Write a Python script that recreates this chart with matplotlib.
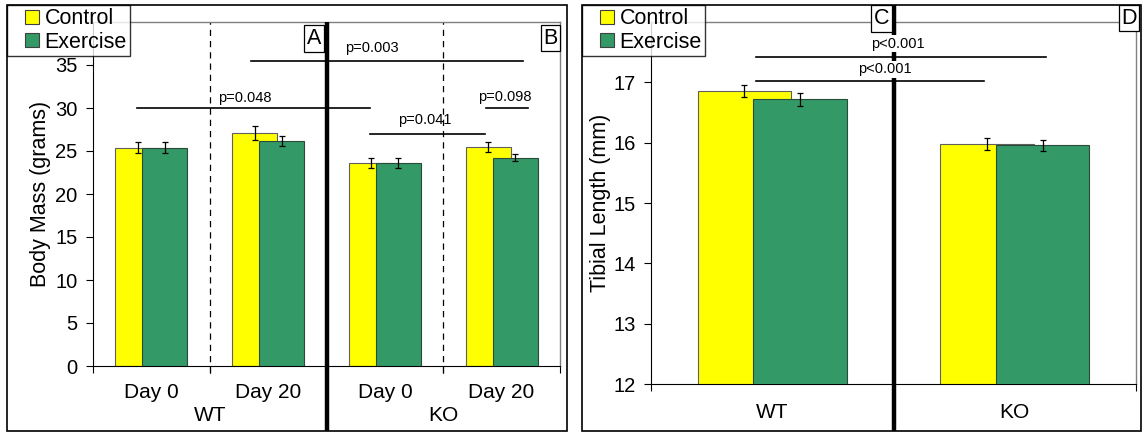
import matplotlib
matplotlib.use("Agg")
from matplotlib import pyplot as plt
from matplotlib.patches import Rectangle
from matplotlib.lines import Line2D
from matplotlib import transforms
import numpy as np

plt.rcParams['font.family'] = ['Liberation Sans', 'DejaVu Sans']

# body mass (grams), days 0 / 20 for WT and KO
mass_groups = ["Day 0", "Day 20", "Day 0", "Day 20"]
mass_genotypes = ["WT", "KO"]
mass_control = [25.4, 27.1, 23.6, 25.45]
mass_control_err = [0.65, 0.8, 0.6, 0.6]
mass_exercise = [25.4, 26.2, 23.6, 24.2]
mass_exercise_err = [0.6, 0.6, 0.6, 0.4]

# tibial length (mm)
tibia_groups = ["WT", "KO"]
tibia_control = [16.85, 15.98]
tibia_control_err = [0.1, 0.095]
tibia_exercise = [16.72, 15.96]
tibia_exercise_err = [0.11, 0.09]

# significance bars: (x start, x end, y, label, label x, label y)
mass_pvals = [
    (-0.12, 1.876, 30.0, "p=0.048", 0.80, 31.2),
    (0.85, 3.186, 35.5, "p=0.003", 1.89, 37.0),
    (1.876, 2.86, 27.0, "p=0.041", 2.34, 28.6),
    (2.87, 3.23, 30.0, "p=0.098", 3.03, 31.3),
]
tibia_pvals = [
    (-0.066, 1.13, 17.42, "p<0.001", 0.516, 17.64),
    (-0.066, 0.873, 17.03, "p<0.001", 0.464, 17.215),
]

YELLOW = "#FFFF00"
GREEN = "#339966"
W, OFF = 0.385, 0.115


def draw_bars(ax, ctrl, ctrl_err, exer, exer_err):
    x = np.arange(len(ctrl))
    ax.bar(x - OFF, ctrl, W, color=YELLOW, edgecolor="#606060", lw=0.8, zorder=2)
    ax.bar(x + OFF, exer, W, color=GREEN, edgecolor="#2a4a3a", lw=0.8, zorder=3)
    ax.errorbar(x - OFF, ctrl, yerr=ctrl_err, fmt="none", ecolor="black",
                elinewidth=0.9, capsize=2.5, capthick=0.9, zorder=5)
    ax.errorbar(x + OFF, exer, yerr=exer_err, fmt="none", ecolor="black",
                elinewidth=0.9, capsize=2.5, capthick=0.9, zorder=5)


def style_axes(ax):
    for s in ["top", "right"]:
        ax.spines[s].set_color("#808080")
        ax.spines[s].set_linewidth(1.0)
    ax.spines["left"].set_color("black")
    ax.spines["bottom"].set_color("black")
    ax.tick_params(axis="y", direction="out", length=5, labelsize=14.5, pad=6)
    ax.tick_params(axis="x", direction="out", length=5, labelbottom=False)


def panel_letter(ax, s, x, y):
    ax.text(x, y, s, transform=ax.transAxes, ha="center", va="center", fontsize=15.5,
            bbox=dict(boxstyle="square,pad=0.12", fc="white", ec="black", lw=0.9),
            zorder=10, clip_on=False)


def add_legend(ax, fig, x0, y0):
    handles = [Line2D([], [], ls="none", marker="s", ms=9.5, mfc=YELLOW,
                      mec="#404040", mew=0.8, label="Control"),
               Line2D([], [], ls="none", marker="s", ms=9.5, mfc=GREEN,
                      mec="#404040", mew=0.8, label="Exercise")]
    leg = ax.legend(handles=handles, loc="upper left", bbox_to_anchor=(x0, y0),
                    bbox_transform=fig.transFigure, fontsize=15.5, frameon=True,
                    fancybox=False, edgecolor="black", borderpad=0.15,
                    labelspacing=0.12, handlelength=2.0, handletextpad=-0.4,
                    borderaxespad=0)
    leg.get_frame().set_linewidth(1.0)
    leg.set_zorder(20)


fig = plt.figure(figsize=(11.46, 4.33), dpi=100)

# outer frames of the two panels
for (x0, x1) in [(7, 567), (582, 1141)]:
    fig.patches.append(Rectangle((x0 / 1146, 1 - 431 / 433), (x1 - x0) / 1146, 426 / 433,
                                 transform=fig.transFigure, fill=False, ec="black",
                                 lw=1.2, zorder=0))

# ---- body mass panel ----
ax1 = fig.add_axes([93 / 1146, 1 - 366 / 433, 467 / 1146, 344 / 433])
draw_bars(ax1, mass_control, mass_control_err, mass_exercise, mass_exercise_err)
ax1.set_xlim(-0.5, 3.5)
ax1.set_ylim(0, 40)
ax1.set_yticks(range(0, 36, 5))
ax1.set_xticks([-0.5, 0.5, 1.5, 2.5, 3.5])
style_axes(ax1)
ax1.set_ylabel("Body Mass (grams)", fontsize=15.5, labelpad=3)

xt1 = transforms.blended_transform_factory(ax1.transData, ax1.transAxes)
for xb in [0.5, 2.5]:
    ax1.plot([xb, xb], [-0.02, 1.0], transform=xt1, color="black", lw=0.9,
             ls=(0, (5, 4)), clip_on=False, zorder=1)
ax1.plot([1.5, 1.5], [-0.189, 1.0], transform=xt1, color="black", lw=3.2,
         clip_on=False, zorder=6, solid_capstyle="butt")

for i, g in enumerate(mass_groups):
    ax1.text(i, -0.078, g, transform=xt1, ha="center", va="center", fontsize=15)
for i, g in enumerate(mass_genotypes):
    ax1.text(0.5 + 2 * i, -0.145, g, transform=xt1, ha="center", va="center", fontsize=15)

for (xa, xb, y, lab, tx, ty) in mass_pvals:
    ax1.plot([xa, xb], [y, y], color="black", lw=1.2, zorder=4)
    ax1.text(tx, ty, lab, ha="center", va="center", fontsize=10.5, zorder=7)

panel_letter(ax1, "A", 0.473, 0.952)
panel_letter(ax1, "B", 0.980, 0.953)
add_legend(ax1, fig, 7 / 1146, 1 - 5 / 433)

# ---- tibial length panel ----
ax2 = fig.add_axes([651 / 1146, 1 - 384 / 433, 485 / 1146, 362 / 433])
draw_bars(ax2, tibia_control, tibia_control_err, tibia_exercise, tibia_exercise_err)
ax2.set_xlim(-0.5, 1.5)
ax2.set_ylim(12, 18)
ax2.set_yticks(range(12, 18))
ax2.set_xticks([-0.5, 0.5, 1.5])
style_axes(ax2)
ax2.set_ylabel("Tibial Length (mm)", fontsize=15.5, labelpad=2)

xt2 = transforms.blended_transform_factory(ax2.transData, ax2.transAxes)
ax2.plot([0.5, 0.5], [-0.13, 1.047], transform=xt2, color="black", lw=3.2,
         clip_on=False, zorder=6, solid_capstyle="butt")

for i, g in enumerate(tibia_groups):
    ax2.text(i, -0.08, g, transform=xt2, ha="center", va="center", fontsize=15)

for (xa, xb, y, lab, tx, ty) in tibia_pvals:
    ax2.plot([xa, xb], [y, y], color="black", lw=1.2, zorder=4)
    ax2.text(tx, ty, lab, ha="center", va="center", fontsize=10.5, zorder=7,
             bbox=dict(boxstyle="square,pad=0.1", fc="white", ec="none"))

panel_letter(ax2, "C", 0.475, 1.0097)
panel_letter(ax2, "D", 0.9856, 1.011)
add_legend(ax2, fig, 582 / 1146, 1 - 5 / 433)

plt.savefig("out.png", dpi=100)
